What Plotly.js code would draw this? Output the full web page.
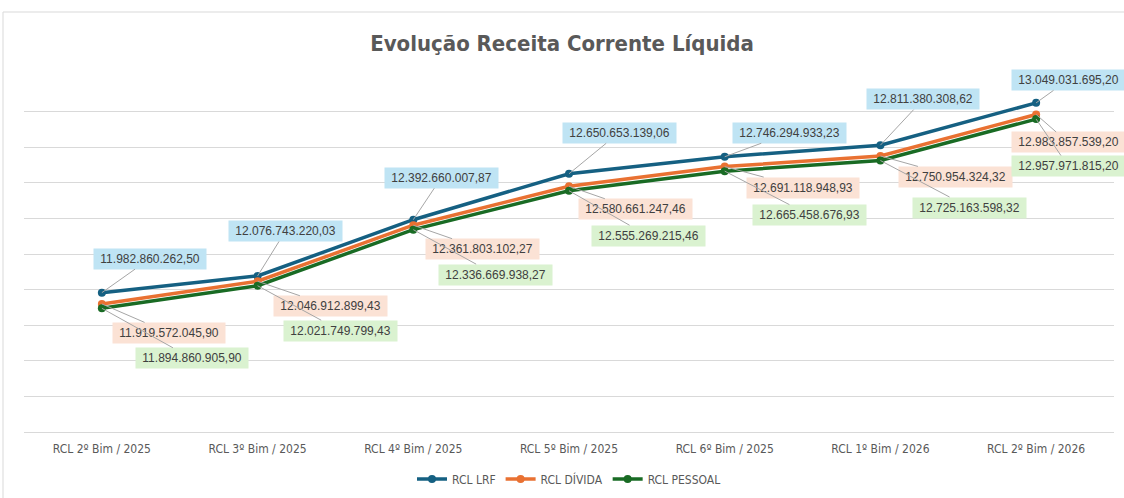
<!DOCTYPE html>
<html>
<head>
<meta charset="utf-8">
<script src="https://cdn.plot.ly/plotly-3.0.1.min.js"></script>
<style>html,body{margin:0;padding:0;background:#fff;}#chart{width:1124px;height:498px;}</style>
</head>
<body>
<div id="chart"></div>
<script>
const categories = ["RCL 2º Bim / 2025","RCL 3º Bim / 2025","RCL 4º Bim / 2025","RCL 5º Bim / 2025","RCL 6º Bim / 2025","RCL 1º Bim / 2026","RCL 2º Bim / 2026"];
const rclLRF = [11982860262.50, 12076743220.03, 12392660007.87, 12650653139.06, 12746294933.23, 12811380308.62, 13049031695.20];
const rclDivida = [11919572045.90, 12046912899.43, 12361803102.27, 12580661247.46, 12691118948.93, 12750954324.32, 12983857539.20];
const rclPessoal = [11894860905.90, 12021749799.43, 12336669938.27, 12555269215.46, 12665458676.93, 12725163598.32, 12957971815.20];
const seriesNames = ["RCL LRF", "RCL DÍVIDA", "RCL PESSOAL"];

function fmtBR(v) {
  const fixed = v.toFixed(2);
  const parts = fixed.split(".");
  const intPart = parts[0].replace(/\B(?=(\d{3})+(?!\d))/g, ".");
  return intPart + "," + parts[1];
}

const colors = ["#156082", "#E97132", "#196B24"];
const labelBg = ["#BFE4F4", "#FBE2D5", "#DAF2D0"];
const allSeries = [rclLRF, rclDivida, rclPessoal];

// label offsets in pixels (ax, ay) per series per point
const offsets = [
  [[48,-34],[28,-45],[28,-42],[50,-41],[65,-24],[43,-46],[32,-23]],
  [[67,29],[73,25],[69,24],[66,23],[78,21],[75,21],[32,28]],
  [[90,50],[83,45],[82,45],[79,45],[85,44],[89,47],[32,47]]
];

const narrow = "'Liberation Sans Narrow', 'DejaVu Sans Condensed', 'Arial Narrow', sans-serif";

const traces = allSeries.map((ys, i) => ({
  x: categories,
  y: ys,
  name: seriesNames[i],
  type: "scatter",
  mode: "lines+markers",
  line: {color: colors[i], width: 3.5},
  marker: {color: colors[i], size: 8},
  hoverinfo: "skip"
}));

const annotations = [];
allSeries.forEach((ys, s) => {
  ys.forEach((v, k) => {
    annotations.push({
      x: categories[k], y: v, xref: "x", yref: "y",
      text: "\u00a0" + fmtBR(v) + "\u00a0",
      showarrow: true, arrowhead: 0, arrowwidth: 1, arrowcolor: "#A6A6A6",
      ax: offsets[s][k][0], ay: offsets[s][k][1],
      standoff: 0, startstandoff: 0,
      bgcolor: labelBg[s], borderpad: 3,
      font: {family: "'Liberation Sans', Arial, sans-serif", size: 12, color: "#404040"}
    });
  });
});

const layout = {
  width: 1124, height: 498,
  margin: {l: 24, r: 10, t: 76, b: 66},
  paper_bgcolor: "#ffffff", plot_bgcolor: "#ffffff",
  title: {
    text: "<b>Evolução Receita Corrente Líquida</b>",
    font: {family: narrow, size: 22, color: "#595959"},
    x: 0.5, xanchor: "center", y: 0.913, yanchor: "middle"
  },
  xaxis: {
    type: "category", range: [-0.5, 6.5],
    showgrid: false, zeroline: false,
    showline: true, linecolor: "#D9D9D9", linewidth: 1,
    ticks: "", ticklabelstandoff: 6,
    tickfont: {family: narrow, size: 12, color: "#595959"},
    fixedrange: true, automargin: false
  },
  yaxis: {
    range: [11.2e9, 13.2e9], dtick: 0.2e9, tick0: 11.2e9,
    showticklabels: false, showgrid: true, gridcolor: "#D9D9D9", gridwidth: 1,
    zeroline: false, showline: false, ticks: "", fixedrange: true, automargin: false
  },
  showlegend: true,
  legend: {
    orientation: "h", x: 0.5, xanchor: "center",
    yref: "container", y: 0.038, yanchor: "middle",
    font: {family: narrow, size: 12, color: "#595959"}, itemwidth: 30,
    traceorder: "normal"
  },
  hovermode: false,
  annotations: annotations,
  shapes: [{
    type: "rect", xref: "paper", yref: "paper",
    x0: (3 - 24) / 1090, x1: (1140 - 24) / 1090,
    y0: (432 - 510) / 356, y1: (432 - 12) / 356,
    line: {color: "#D9D9D9", width: 1}, fillcolor: "rgba(0,0,0,0)", layer: "below"
  }]
};

Plotly.newPlot("chart", traces, layout, {displayModeBar: false, staticPlot: true});
</script>
</body>
</html>
